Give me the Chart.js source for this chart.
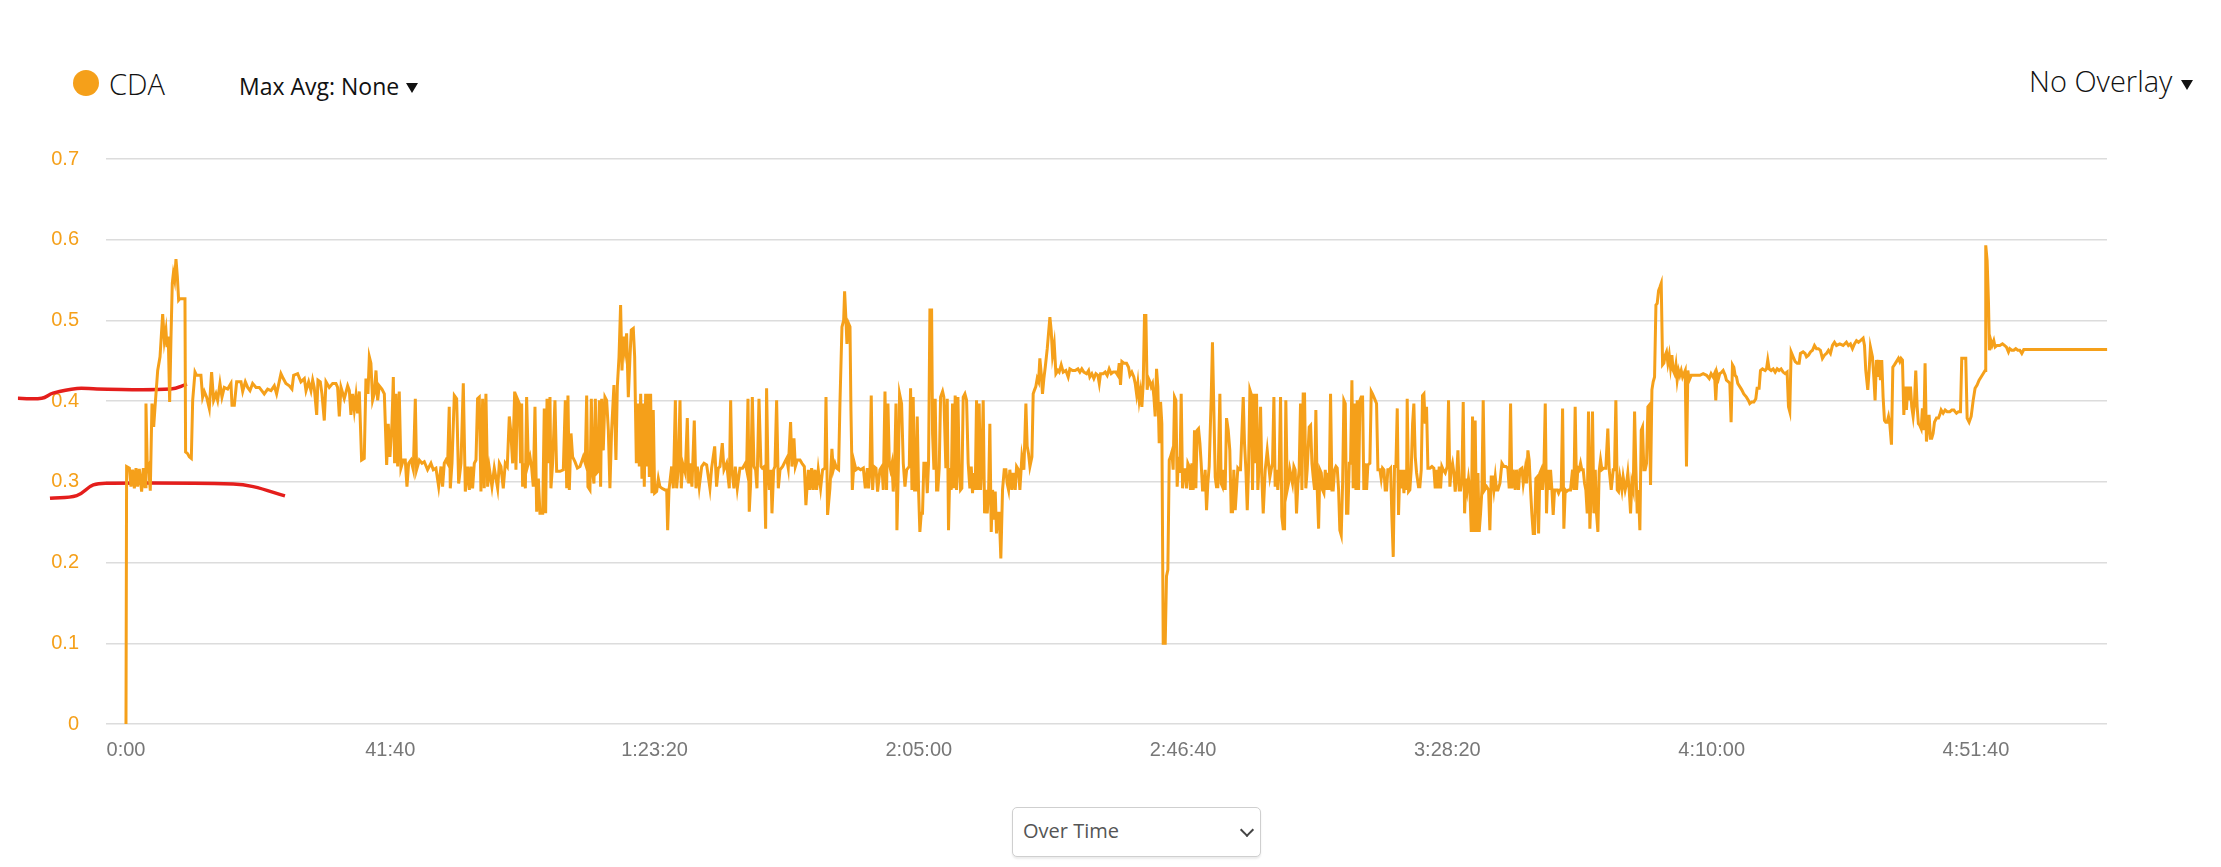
<!DOCTYPE html>
<html>
<head>
<meta charset="utf-8">
<script src="https://cdn.jsdelivr.net/npm/chart.js@4.4.1/dist/chart.umd.min.js"></script>
<style>
	html, body { margin: 0; padding: 0; background: #fff; }
	body { width: 2221px; height: 867px; position: relative; overflow: hidden; font-family: 'Open Sans', sans-serif; }
	#cda-chart { position: absolute; left: 0; top: 120px; }
	.legend-dot { position: absolute; left: 73px; top: 70px; width: 26px; height: 26px; border-radius: 50%; background: #F5A01A; }
	.legend-label { position: absolute; left: 109px; top: 69px; font-size: 29px; line-height: 29px; font-weight: 300; color: #111; white-space: nowrap; }
	.max-avg { position: absolute; left: 239px; top: 75px; font-size: 23px; line-height: 23px; font-weight: 400; color: #111; white-space: nowrap; }
	.overlay { position: absolute; left: 2029px; top: 66px; font-size: 29px; line-height: 29px; font-weight: 300; color: #111; white-space: nowrap; }
	.caret { position: absolute; width: 0; height: 0; border-left: 6px solid transparent; border-right: 6px solid transparent; border-top: 10px solid #111; }
	.select-box { position: absolute; left: 1012px; top: 807px; width: 247px; height: 48px; border: 1px solid #cfcfcf; border-radius: 5px; box-shadow: 0 2px 2px rgba(0, 0, 0, 0.08); background: #fff; }
	.select-box span { position: absolute; left: 10px; top: 13px; font-size: 20px; line-height: 20px; color: #555; }
	.chevron { position: absolute; left: 229px; top: 17px; width: 8px; height: 8px; border-right: 2px solid #444; border-bottom: 2px solid #444; transform: rotate(45deg); }
</style>
</head>
<body>

<div class="legend-dot"></div>
<div class="legend-label">CDA</div>
<div class="max-avg">Max Avg: None</div>
<div class="caret" style="left: 406px; top: 83px;"></div>
<div class="overlay">No Overlay</div>
<div class="caret" style="left: 2181px; top: 80px;"></div>

<canvas id="cda-chart" width="2221" height="670"></canvas>

<div class="select-box"><span>Over Time</span><div class="chevron"></div></div>

<script>
	// x axis ticks (seconds) and their labels
	var xTickValues = [0, 2500, 5000, 7500, 10000, 12500, 15000, 17500];
	var xTickLabels = ['0:00', '41:40', '1:23:20', '2:05:00', '2:46:40', '3:28:20', '4:10:00', '4:51:40'];
	var xMin = -189;
	var xMax = 18740;

	var yMin = 0;
	var yMax = 0.7;
	var yStep = 0.1;

	// hand drawn marks on the picture, [seconds, cda]
	var redUpper = [[-1022, 0.4035], [-797, 0.4035], [-690, 0.410], [-463, 0.4158], [-274, 0.415], [423, 0.415], [577, 0.421]];
	var redLower = [[-719, 0.2797], [-466, 0.2829], [-309, 0.2962], [-151, 0.2983], [1015, 0.2974], [1204, 0.2941], [1504, 0.2826]];

	// CDA over time, [seconds, cda]
	var cdaPoints = [
		[0,0],[6,0.319],[32,0.317],[47,0.294],[63,0.315],[79,0.292],[95,0.317],[110,0.294],[126,0.316],[148,0.288],[164,0.317],[180,0.294],[189,0.397],[202,0.315],[214,0.319],[230,0.289],[246,0.397],[262,0.368],[277,0.397],[300,0.438],[322,0.455],[347,0.508],[363,0.475],[378,0.488],[388,0.467],[400,0.48],[413,0.399],[426,0.48],[438,0.546],[448,0.558],[460,0.55],[473,0.576],[486,0.554],[498,0.525],[511,0.527],[558,0.527],[564,0.337],[583,0.335],[599,0.331],[618,0.329],[631,0.401],[653,0.436],[668,0.432],[709,0.432],[725,0.405],[741,0.412],[763,0.405],[788,0.391],[810,0.436],[829,0.401],[851,0.409],[867,0.401],[889,0.422],[908,0.405],[930,0.417],[962,0.415],[993,0.422],[1003,0.395],[1025,0.395],[1047,0.424],[1088,0.424],[1104,0.412],[1129,0.424],[1151,0.417],[1173,0.413],[1198,0.422],[1230,0.417],[1261,0.417],[1308,0.409],[1340,0.415],[1372,0.413],[1403,0.419],[1425,0.409],[1466,0.434],[1488,0.428],[1513,0.422],[1545,0.419],[1570,0.415],[1586,0.432],[1624,0.434],[1655,0.424],[1687,0.428],[1703,0.413],[1728,0.424],[1750,0.413],[1766,0.426],[1781,0.417],[1804,0.383],[1816,0.426],[1838,0.424],[1854,0.409],[1876,0.376],[1892,0.424],[1923,0.417],[1955,0.422],[1986,0.422],[2002,0.417],[2018,0.381],[2034,0.417],[2065,0.403],[2097,0.419],[2113,0.413],[2128,0.383],[2144,0.409],[2160,0.389],[2176,0.407],[2191,0.385],[2207,0.412],[2229,0.327],[2254,0.329],[2270,0.428],[2289,0.409],[2302,0.455],[2317,0.447],[2333,0.401],[2349,0.409],[2365,0.438],[2381,0.401],[2396,0.419],[2421,0.415],[2444,0.409],[2466,0.321],[2481,0.372],[2497,0.331],[2516,0.372],[2529,0.43],[2541,0.323],[2554,0.409],[2570,0.319],[2585,0.412],[2601,0.317],[2623,0.327],[2642,0.327],[2658,0.294],[2674,0.323],[2696,0.327],[2718,0.315],[2737,0.403],[2749,0.315],[2775,0.327],[2800,0.323],[2822,0.325],[2853,0.315],[2885,0.323],[2907,0.315],[2932,0.317],[2958,0.294],[2980,0.319],[2995,0.294],[3011,0.323],[3027,0.327],[3043,0.323],[3058,0.393],[3068,0.292],[3084,0.323],[3106,0.407],[3128,0.403],[3147,0.298],[3169,0.323],[3191,0.422],[3210,0.288],[3232,0.319],[3248,0.29],[3263,0.319],[3279,0.292],[3295,0.323],[3311,0.327],[3326,0.403],[3342,0.405],[3358,0.288],[3374,0.403],[3389,0.292],[3405,0.409],[3421,0.294],[3437,0.317],[3462,0.294],[3484,0.317],[3516,0.292],[3532,0.323],[3547,0.319],[3569,0.292],[3588,0.323],[3607,0.319],
		[3626,0.381],[3639,0.364],[3658,0.323],[3677,0.412],[3689,0.315],[3702,0.403],[3721,0.397],[3733,0.323],[3743,0.397],[3752,0.294],[3765,0.323],[3778,0.292],[3790,0.405],[3806,0.323],[3822,0.331],[3838,0.317],[3853,0.294],[3869,0.393],[3885,0.263],[3901,0.304],[3916,0.261],[3942,0.261],[3957,0.391],[3970,0.261],[3983,0.403],[3995,0.323],[4011,0.405],[4020,0.292],[4036,0.323],[4058,0.401],[4074,0.313],[4106,0.313],[4137,0.315],[4156,0.401],[4169,0.292],[4181,0.407],[4194,0.29],[4210,0.36],[4225,0.331],[4247,0.325],[4270,0.317],[4295,0.319],[4326,0.331],[4345,0.323],[4358,0.407],[4370,0.294],[4389,0.29],[4402,0.403],[4415,0.311],[4427,0.298],[4440,0.403],[4452,0.311],[4465,0.313],[4478,0.401],[4490,0.294],[4500,0.403],[4515,0.339],[4531,0.405],[4547,0.401],[4563,0.364],[4578,0.292],[4594,0.364],[4616,0.42],[4635,0.327],[4648,0.418],[4664,0.455],[4679,0.519],[4692,0.438],[4705,0.48],[4720,0.463],[4736,0.484],[4752,0.405],[4768,0.455],[4780,0.488],[4799,0.49],[4812,0.455],[4828,0.323],[4840,0.397],[4856,0.319],[4869,0.409],[4881,0.304],[4894,0.397],[4903,0.294],[4916,0.409],[4925,0.319],[4938,0.409],[4951,0.306],[4963,0.409],[4976,0.286],[4988,0.389],[5001,0.286],[5020,0.288],[5036,0.304],[5051,0.294],[5070,0.292],[5099,0.29],[5115,0.29],[5124,0.24],[5137,0.29],[5162,0.319],[5178,0.292],[5197,0.401],[5209,0.292],[5225,0.317],[5241,0.401],[5253,0.292],[5266,0.323],[5291,0.311],[5310,0.379],[5323,0.298],[5335,0.323],[5354,0.294],[5376,0.376],[5392,0.292],[5405,0.319],[5423,0.294],[5446,0.319],[5468,0.323],[5493,0.321],[5524,0.292],[5540,0.317],[5569,0.344],[5587,0.294],[5603,0.317],[5619,0.319],[5641,0.348],[5657,0.315],[5682,0.323],[5707,0.292],[5720,0.401],[5732,0.315],[5751,0.292],[5764,0.319],[5783,0.292],[5808,0.317],[5833,0.317],[5859,0.323],[5871,0.315],[5884,0.403],[5896,0.263],[5909,0.298],[5925,0.405],[5941,0.319],[5956,0.315],[5969,0.292],[5988,0.403],[6007,0.319],[6019,0.317],[6038,0.319],[6051,0.242],[6060,0.416],[6073,0.315],[6086,0.29],[6101,0.315],[6111,0.261],[6127,0.315],[6139,0.319],[6155,0.401],[6171,0.292],[6187,0.315],[6212,0.319],[6234,0.325],[6250,0.329],[6265,0.317],[6287,0.374],[6300,0.319],[6319,0.354],[6332,0.319],[6350,0.327],[6376,0.327],[6395,0.323],[6417,0.319],[6432,0.271],[6445,0.298],[6455,0.315],[6470,0.29],[6486,0.317],[6502,0.29],[6518,0.315],[6533,0.29],[6549,0.315],[6571,0.292],[6590,0.315],[6612,0.317],[6622,0.405],[6637,0.259],[6659,0.292],[6678,0.341],[6691,0.315],[6707,0.323],[6722,0.317],[6741,0.315],[6754,0.397],[6773,0.492],[6789,0.5],[6798,0.536],[6811,0.5],[6820,0.471],[6836,0.496],[6849,0.492],[6858,0.389],[6871,0.29],[6887,0.325],[6906,0.315],[6927,0.317],[6950,0.315],[6975,0.317],[6994,0.292],[7013,0.317],[7025,0.292],[7038,0.315],[7050,0.407],[7063,0.29],[7076,0.319],[7095,0.317],[7110,0.288],[7132,0.315],[7151,0.319],[7164,0.29],[7180,0.412],[7195,0.29],[7208,0.397],[7221,0.323],[7233,0.315],[7246,0.323],[7258,0.288],[7271,0.315],[7284,0.397],[7293,0.24],[7306,0.315],[7318,0.409],[7337,0.397],[7353,0.323],[7369,0.294],[7385,0.315],[7410,0.319],
		[7422,0.416],[7435,0.29],[7447,0.405],[7460,0.29],[7472,0.29],[7485,0.381],[7498,0.288],[7510,0.238],[7523,0.261],[7535,0.261],[7548,0.323],[7567,0.323],[7580,0.286],[7592,0.323],[7605,0.513],[7621,0.513],[7630,0.36],[7643,0.315],[7655,0.403],[7668,0.29],[7680,0.29],[7693,0.317],[7706,0.405],[7725,0.412],[7737,0.405],[7756,0.317],[7769,0.403],[7781,0.24],[7794,0.317],[7807,0.29],[7819,0.397],[7832,0.292],[7844,0.407],[7857,0.29],[7870,0.405],[7882,0.319],[7895,0.29],[7907,0.292],[7920,0.405],[7936,0.409],[7952,0.401],[7967,0.323],[7983,0.292],[7996,0.319],[8008,0.286],[8021,0.311],[8034,0.29],[8046,0.401],[8059,0.29],[8071,0.397],[8084,0.29],[8097,0.323],[8109,0.401],[8122,0.261],[8134,0.29],[8147,0.261],[8160,0.286],[8172,0.372],[8185,0.238],[8198,0.29],[8210,0.253],[8223,0.288],[8235,0.236],[8248,0.261],[8261,0.261],[8276,0.205],[8292,0.29],[8308,0.315],[8324,0.315],[8336,0.298],[8349,0.29],[8361,0.315],[8380,0.29],[8393,0.311],[8412,0.29],[8425,0.319],[8443,0.315],[8456,0.29],[8475,0.331],[8494,0.315],[8513,0.397],[8525,0.344],[8538,0.335],[8551,0.319],[8570,0.331],[8582,0.409],[8595,0.414],[8607,0.418],[8620,0.428],[8633,0.424],[8645,0.453],[8658,0.434],[8670,0.409],[8683,0.428],[8696,0.442],[8715,0.465],[8727,0.484],[8740,0.504],[8752,0.488],[8765,0.457],[8781,0.471],[8797,0.434],[8816,0.438],[8828,0.436],[8847,0.445],[8866,0.436],[8891,0.438],[8913,0.43],[8929,0.44],[8954,0.438],[8979,0.438],[9005,0.44],[9024,0.436],[9042,0.44],[9061,0.436],[9087,0.434],[9106,0.438],[9118,0.43],[9137,0.434],[9156,0.428],[9175,0.434],[9194,0.432],[9207,0.422],[9219,0.434],[9244,0.434],[9263,0.436],[9282,0.432],[9301,0.44],[9320,0.434],[9339,0.436],[9364,0.436],[9383,0.432],[9396,0.447],[9408,0.42],[9421,0.449],[9440,0.447],[9465,0.447],[9484,0.442],[9497,0.432],[9515,0.436],[9534,0.43],[9547,0.422],[9560,0.409],[9572,0.422],[9585,0.401],[9597,0.412],[9610,0.393],[9623,0.422],[9635,0.506],[9648,0.506],[9660,0.414],[9673,0.428],[9686,0.424],[9698,0.418],[9711,0.422],[9724,0.405],[9736,0.381],[9749,0.44],[9761,0.418],[9774,0.348],[9787,0.399],[9799,0.372],[9812,0.1],[9831,0.1],[9843,0.183],[9856,0.191],[9869,0.327],[9881,0.331],[9894,0.337],[9906,0.315],[9919,0.405],[9932,0.401],[9944,0.294],[9957,0.331],[9970,0.311],[9982,0.409],[9995,0.292],[10007,0.315],[10020,0.315],[10033,0.292],[10045,0.323],[10058,0.319],[10070,0.29],[10083,0.323],[10096,0.29],[10108,0.364],[10121,0.292],[10133,0.364],[10146,0.366],[10159,0.348],[10171,0.323],[10184,0.29],[10197,0.29],[10209,0.315],[10222,0.265],[10234,0.298],[10247,0.319],[10266,0.405],[10278,0.473],[10291,0.389],[10304,0.306],[10316,0.294],[10329,0.294],[10348,0.409],[10360,0.298],[10373,0.294],[10386,0.315],[10398,0.29],[10411,0.379],[10427,0.364],[10442,0.339],[10455,0.263],[10468,0.263],[10480,0.315],[10493,0.265],[10505,0.29],[10518,0.317],[10531,0.315],[10543,0.315],[10556,0.36],[10569,0.405],[10581,0.348],[10594,0.315],[10607,0.265],[10619,0.315],[10632,0.414],[10644,0.409],[10657,0.29],[10670,0.409],[10682,0.323],[10695,0.409],[10707,0.29],[10720,0.323],[10733,0.393],[10745,0.306],[10758,0.261],[10777,0.315],[10796,0.339],[10808,0.323],[10821,0.306],[10833,0.315],[10846,0.323],[10859,0.405],[10871,0.294],[10884,0.315],[10896,0.29],[10909,0.315],[10922,0.405],[10934,0.257],[10947,0.242],[10960,0.242],[10972,0.401],[10985,0.29],[10997,0.298],[11010,0.315],[11023,0.306],[11035,0.298],[11048,0.319],[11060,0.315],[11073,0.261],[11086,0.298],[11098,0.315],[11111,0.397],[11124,0.29],[11136,0.409],[11149,0.409],[11161,0.292],[11174,0.315],[11193,0.368],
		[11206,0.37],[11219,0.323],[11231,0.306],[11244,0.29],[11256,0.389],[11269,0.29],[11282,0.242],[11294,0.315],[11307,0.311],[11319,0.29],[11332,0.286],[11345,0.315],[11357,0.29],[11370,0.311],[11382,0.29],[11395,0.409],[11408,0.29],[11420,0.29],[11433,0.315],[11446,0.319],[11458,0.317],[11471,0.29],[11483,0.24],[11496,0.234],[11509,0.298],[11521,0.401],[11534,0.397],[11546,0.261],[11559,0.261],[11572,0.323],[11584,0.323],[11597,0.426],[11609,0.292],[11622,0.397],[11635,0.29],[11647,0.401],[11660,0.29],[11673,0.401],[11685,0.405],[11698,0.405],[11710,0.29],[11723,0.323],[11736,0.29],[11748,0.321],[11767,0.323],[11780,0.412],[11792,0.409],[11805,0.405],[11818,0.401],[11830,0.397],[11843,0.315],[11862,0.315],[11874,0.304],[11887,0.317],[11900,0.315],[11912,0.29],[11925,0.29],[11937,0.315],[11950,0.315],[11963,0.317],[11975,0.257],[11988,0.207],[12000,0.319],[12013,0.319],[12026,0.391],[12038,0.259],[12051,0.315],[12064,0.292],[12076,0.315],[12089,0.286],[12101,0.315],[12114,0.29],[12120,0.403],[12133,0.288],[12145,0.29],[12158,0.315],[12171,0.372],[12183,0.397],[12196,0.331],[12209,0.311],[12227,0.294],[12240,0.294],[12253,0.315],[12265,0.407],[12278,0.409],[12290,0.372],[12303,0.393],[12316,0.317],[12335,0.317],[12354,0.319],[12372,0.317],[12385,0.292],[12398,0.315],[12410,0.292],[12423,0.319],[12436,0.292],[12448,0.319],[12461,0.315],[12480,0.311],[12499,0.319],[12511,0.401],[12524,0.294],[12536,0.315],[12549,0.323],[12562,0.311],[12574,0.288],[12587,0.306],[12600,0.339],[12612,0.29],[12625,0.29],[12637,0.302],[12650,0.399],[12663,0.261],[12675,0.304],[12688,0.29],[12700,0.304],[12713,0.29],[12726,0.238],[12738,0.381],[12751,0.238],[12763,0.376],[12776,0.238],[12789,0.311],[12801,0.238],[12814,0.261],[12827,0.29],[12839,0.401],[12852,0.29],[12871,0.294],[12890,0.29],[12902,0.24],[12915,0.306],[12927,0.306],[12940,0.29],[12953,0.306],[12965,0.29],[12978,0.29],[12997,0.298],[13016,0.323],[13035,0.319],[13054,0.319],[13072,0.317],[13085,0.292],[13098,0.397],[13110,0.292],[13123,0.315],[13142,0.29],[13154,0.315],[13173,0.29],[13186,0.315],[13205,0.317],[13218,0.298],[13236,0.315],[13249,0.298],[13262,0.339],[13274,0.327],[13287,0.29],[13299,0.261],[13312,0.236],[13325,0.236],[13337,0.304],[13350,0.306],[13363,0.236],[13375,0.311],[13388,0.315],[13400,0.29],[13413,0.313],[13426,0.397],[13438,0.261],[13451,0.315],[13463,0.29],[13476,0.315],[13489,0.29],[13501,0.259],[13514,0.29],[13526,0.29],[13539,0.29],[13552,0.286],[13564,0.29],[13577,0.29],[13590,0.391],[13602,0.242],[13615,0.29],[13627,0.288],[13646,0.29],[13665,0.29],[13684,0.315],[13697,0.29],[13709,0.393],[13722,0.29],[13735,0.317],[13747,0.315],[13760,0.323],[13772,0.315],[13785,0.315],[13798,0.298],[13810,0.29],[13823,0.261],[13835,0.387],[13848,0.242],[13861,0.29],[13873,0.387],[13886,0.261],[13899,0.315],[13911,0.261],[13924,0.238],[13936,0.313],[13949,0.327],[13962,0.315],[13981,0.317],[13999,0.317],[14018,0.366],[14031,0.315],[14050,0.29],[14069,0.315],[14081,0.315],[14094,0.401],[14107,0.29],[14119,0.288],[14132,0.306],[14151,0.29],[14163,0.306],[14182,0.29],[14195,0.298],[14207,0.311],[14220,0.29],[14233,0.261],[14245,0.298],[14258,0.29],[14271,0.387],[14283,0.319],[14296,0.261],[14308,0.29],[14321,0.24],[14334,0.364],[14346,0.368],[14359,0.315],[14371,0.315],[14384,0.323],[14397,0.393],[14409,0.395],[14422,0.296],[14435,0.414],[14447,0.424],[14460,0.43],[14473,0.519],[14485,0.521],[14498,0.537],[14510,0.541],[14523,0.546],[14536,0.445],[14548,0.447],[14561,0.457],[14573,0.461],[14586,0.447],[14599,0.457],[14611,0.442],[14624,0.457],[14636,0.438],[14649,0.434],[14662,0.445],[14674,0.426],[14687,0.438],[14699,0.432],[14712,0.438],[14725,0.43],[14737,0.434],[14750,0.438],[14762,0.319],[14775,0.438],[14788,0.426],[14807,0.432],[14826,0.432],[14857,0.432],[14889,0.432],[14920,0.434],[14952,0.432],[14977,0.428],
		[14995,0.434],[15014,0.43],[15027,0.434],[15039,0.401],[15052,0.434],[15065,0.428],[15077,0.434],[15096,0.436],[15109,0.438],[15128,0.432],[15140,0.426],[15159,0.424],[15172,0.422],[15184,0.374],[15197,0.445],[15210,0.442],[15222,0.432],[15235,0.43],[15247,0.422],[15266,0.418],[15285,0.414],[15304,0.409],[15329,0.405],[15348,0.401],[15361,0.397],[15380,0.399],[15399,0.399],[15418,0.403],[15430,0.416],[15449,0.416],[15462,0.438],[15481,0.44],[15506,0.438],[15519,0.44],[15531,0.451],[15544,0.44],[15563,0.438],[15582,0.44],[15601,0.436],[15620,0.44],[15638,0.438],[15657,0.44],[15676,0.436],[15695,0.434],[15714,0.436],[15727,0.393],[15739,0.387],[15752,0.461],[15771,0.455],[15790,0.449],[15809,0.447],[15828,0.447],[15840,0.459],[15865,0.461],[15884,0.459],[15897,0.455],[15916,0.457],[15935,0.461],[15954,0.463],[15973,0.469],[15992,0.465],[16010,0.465],[16029,0.463],[16048,0.453],[16067,0.457],[16086,0.459],[16105,0.463],[16124,0.459],[16143,0.469],[16162,0.473],[16181,0.469],[16212,0.471],[16244,0.469],[16275,0.473],[16294,0.469],[16313,0.471],[16332,0.465],[16351,0.471],[16370,0.475],[16389,0.473],[16408,0.475],[16433,0.478],[16446,0.469],[16458,0.438],[16477,0.414],[16490,0.438],[16502,0.467],[16521,0.455],[16534,0.43],[16546,0.401],[16559,0.451],[16572,0.43],[16584,0.451],[16597,0.426],[16609,0.451],[16622,0.405],[16635,0.376],[16647,0.374],[16660,0.374],[16673,0.381],[16685,0.372],[16701,0.346],[16714,0.442],[16729,0.445],[16748,0.449],[16767,0.453],[16780,0.449],[16792,0.453],[16805,0.451],[16818,0.383],[16830,0.418],[16843,0.389],[16855,0.418],[16868,0.401],[16881,0.418],[16893,0.393],[16906,0.381],[16918,0.397],[16931,0.438],[16944,0.393],[16956,0.372],[16969,0.37],[16982,0.366],[16994,0.391],[17007,0.364],[17019,0.447],[17032,0.35],[17045,0.368],[17057,0.383],[17070,0.354],[17082,0.354],[17095,0.36],[17108,0.374],[17127,0.379],[17146,0.379],[17158,0.383],[17171,0.389],[17190,0.385],[17209,0.389],[17228,0.387],[17253,0.387],[17272,0.389],[17291,0.389],[17303,0.387],[17316,0.385],[17335,0.387],[17354,0.387],[17366,0.453],[17385,0.453],[17404,0.453],[17417,0.379],[17436,0.374],[17455,0.381],[17474,0.401],[17492,0.416],[17511,0.42],[17530,0.426],[17549,0.43],[17568,0.434],[17587,0.438],[17593,0.593],[17606,0.574],[17619,0.521],[17628,0.463],[17641,0.475],[17653,0.469],[17669,0.475],[17682,0.467],[17700,0.469],[17726,0.469],[17751,0.471],[17770,0.469],[17789,0.467],[17808,0.461],[17820,0.465],[17839,0.463],[17858,0.463],[17877,0.465],[17896,0.463],[17915,0.463],[17934,0.459],[17953,0.464],[17978,0.464],[18741,0.464]
	];

	var orange = '#F5A01A';
	var red = '#E41E1C';

	function toXY(list) {
		return list.map(function(p) { return { x: p[0], y: p[1] }; });
	}

	Chart.defaults.font.family = "'Liberation Sans', Arial, sans-serif";

	var ctx = document.getElementById('cda-chart').getContext('2d');

	new Chart(ctx, {
		type: 'line',
		data: {
			datasets: [{
				label: 'CDA',
				data: toXY(cdaPoints),
				borderColor: orange,
				backgroundColor: orange,
				borderWidth: 3,
				pointRadius: 0,
				tension: 0,
				fill: false
			}, {
				label: 'upper mark',
				data: toXY(redUpper),
				borderColor: red,
				borderWidth: 3.5,
				pointRadius: 0,
				tension: 0.4,
				clip: false
			}, {
				label: 'lower mark',
				data: toXY(redLower),
				borderColor: red,
				borderWidth: 3.5,
				pointRadius: 0,
				tension: 0.4,
				clip: false
			}]
		},
		options: {
			responsive: false,
			animation: false,
			layout: {
				padding: { top: 37, right: 114, left: 0, bottom: 0 }
			},
			plugins: {
				legend: { display: false },
				tooltip: { enabled: false }
			},
			scales: {
				x: {
					type: 'linear',
					bounds: 'data',
					grid: { display: false, drawTicks: false },
					border: { display: false },
					ticks: {
						autoSkip: false,
						maxRotation: 0,
						padding: 14,
						color: '#777',
						font: { size: 20 },
						callback: function(value, index) {
							return xTickLabels[index];
						}
					},
					afterDataLimits: function(scale) {
						scale.min = xMin;
						scale.max = xMax;
					},
					afterBuildTicks: function(scale) {
						scale.ticks = xTickValues.map(function(v) { return { value: v }; });
					},
					afterFit: function(scale) {
						scale.height = 66;
					}
				},
				y: {
					min: yMin,
					max: yMax,
					grid: { color: '#dcdcdc', lineWidth: 1.5, drawTicks: false },
					border: { display: false },
					ticks: {
						stepSize: yStep,
						padding: 27,
						color: orange,
						font: { size: 20 }
					},
					afterFit: function(scale) {
						scale.width = 106;
					}
				}
			}
		}
	});
</script>
</body>
</html>
